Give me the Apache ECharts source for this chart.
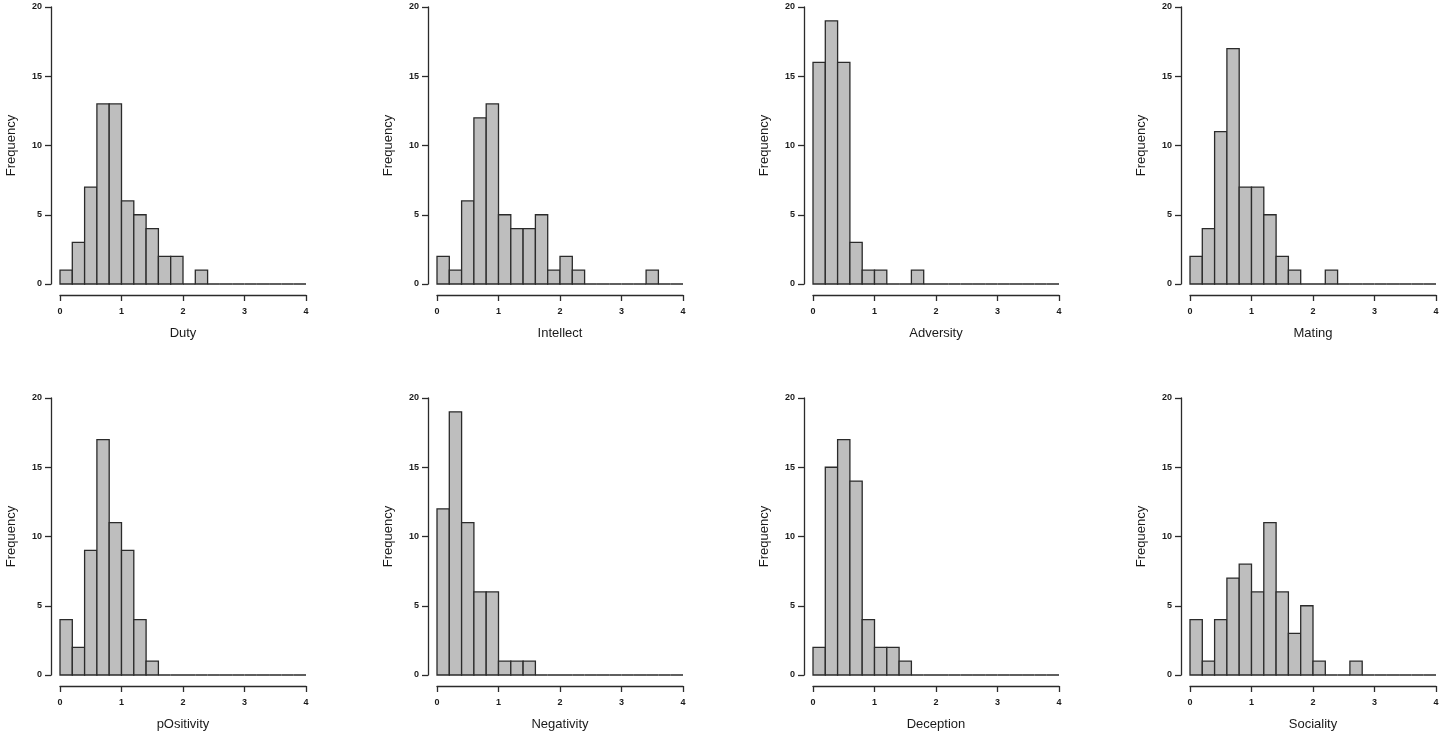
<!DOCTYPE html>
<html>
<head>
<meta charset="utf-8">
<script src="https://cdn.jsdelivr.net/npm/echarts@6/dist/echarts.min.js"></script>
<style>
html,body{margin:0;padding:0;background:#fff;}
#c{width:1442px;height:736px;}
</style>
</head>
<body>
<div id="c"></div>
<script>
// Histogram bins: 0 to 4 by 0.2
const binWidth = 0.2;
const binCount = 20;
const xTicks = [0, 1, 2, 3, 4];
const yTicks = [0, 5, 10, 15, 20];

const panelNames = ['Duty', 'Intellect', 'Adversity', 'Mating', 'pOsitivity', 'Negativity', 'Deception', 'Sociality'];

const duty       = [1, 3, 7, 13, 13, 6, 5, 4, 2, 2, 0, 1, 0, 0, 0, 0, 0, 0, 0, 0];
const intellect  = [2, 1, 6, 12, 13, 5, 4, 4, 5, 1, 2, 1, 0, 0, 0, 0, 0, 1, 0, 0];
const adversity  = [16, 19, 16, 3, 1, 1, 0, 0, 1, 0, 0, 0, 0, 0, 0, 0, 0, 0, 0, 0];
const mating     = [2, 4, 11, 17, 7, 7, 5, 2, 1, 0, 0, 1, 0, 0, 0, 0, 0, 0, 0, 0];
const positivity = [4, 2, 9, 17, 11, 9, 4, 1, 0, 0, 0, 0, 0, 0, 0, 0, 0, 0, 0, 0];
const negativity = [12, 19, 11, 6, 6, 1, 1, 1, 0, 0, 0, 0, 0, 0, 0, 0, 0, 0, 0, 0];
const deception  = [2, 15, 17, 14, 4, 2, 2, 1, 0, 0, 0, 0, 0, 0, 0, 0, 0, 0, 0, 0];
const sociality  = [4, 1, 4, 7, 8, 6, 11, 6, 3, 5, 1, 0, 0, 1, 0, 0, 0, 0, 0, 0];

const panelCounts = [duty, intellect, adversity, mating, positivity, negativity, deception, sociality];

const colLefts = [60, 437, 813, 1190];
const rowTops = [7, 398];
const gridW = 246, gridH = 277;
const FONT = '"Liberation Sans", Arial, sans-serif';
const AXIS_COLOR = '#2b2b2b';

const grids = [], xAxes = [], yAxes = [], series = [];
panelNames.forEach((name, i) => {
  const col = i % 4, row = Math.floor(i / 4);
  grids.push({ left: colLefts[col], top: rowTops[row], width: gridW, height: gridH, containLabel: false });
  xAxes.push({
    type: 'value', gridIndex: i, min: xTicks[0], max: xTicks[xTicks.length - 1], interval: 1,
    offset: 11,
    name: name, nameLocation: 'middle', nameGap: 32,
    nameTextStyle: { fontSize: 13, color: '#1a1a1a', fontFamily: FONT },
    axisLine: { show: true, onZero: false, lineStyle: { color: AXIS_COLOR, width: 1.3 } },
    axisTick: { show: true, inside: false, length: 6, lineStyle: { color: AXIS_COLOR, width: 1.3 } },
    axisLabel: { fontSize: 9, color: '#1a1a1a', margin: 12, fontFamily: FONT, fontWeight: 'bold' },
    splitLine: { show: false }
  });
  yAxes.push({
    type: 'value', gridIndex: i, min: yTicks[0], max: yTicks[yTicks.length - 1], interval: 5,
    offset: 9,
    name: 'Frequency', nameLocation: 'middle', nameGap: 33, nameRotate: 90,
    nameTextStyle: { fontSize: 13, color: '#1a1a1a', fontFamily: FONT },
    axisLine: { show: true, onZero: false, lineStyle: { color: AXIS_COLOR, width: 1.3 } },
    axisTick: { show: true, inside: false, length: 6, lineStyle: { color: AXIS_COLOR, width: 1.3 } },
    axisLabel: { fontSize: 9, color: '#1a1a1a', margin: 9, fontFamily: FONT, fontWeight: 'bold' },
    splitLine: { show: false }
  });
  const data = panelCounts[i].map((c, k) => [k * binWidth, (k + 1) * binWidth, c]);
  series.push({
    type: 'custom', xAxisIndex: i, yAxisIndex: i, data: data, silent: true,
    clip: false,
    renderItem: function (params, api) {
      const p0 = api.coord([api.value(0), api.value(2)]);
      const p1 = api.coord([api.value(1), 0]);
      return {
        type: 'rect',
        shape: { x: p0[0], y: p0[1], width: p1[0] - p0[0], height: p1[1] - p0[1] },
        style: { fill: '#bebebe', stroke: '#2b2b2b', lineWidth: 1.3 }
      };
    }
  });
});

const chart = echarts.init(document.getElementById('c'), null, { renderer: 'canvas' });
chart.setOption({
  animation: false,
  backgroundColor: '#ffffff',
  grid: grids,
  xAxis: xAxes,
  yAxis: yAxes,
  series: series
});
</script>
</body>
</html>
